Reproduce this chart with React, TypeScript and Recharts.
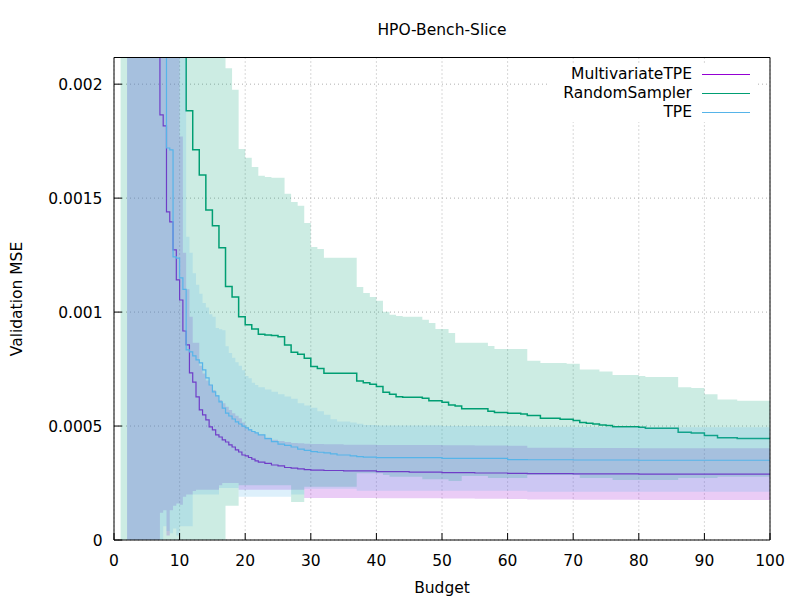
import React from 'react';
import { ComposedChart, Area, Line, XAxis, YAxis, CartesianGrid } from 'recharts';

// ---------- data (values in units of 1e-3 MSE; 3 = above the plot top, -1 = below zero) ----------
const UNIT = 1e-3;

const seriesNames = ['MultivariateTPE', 'RandomSampler', 'TPE'];
const seriesColors = ['#9400d3', '#009e73', '#56b4e9'];

const xTicks = [0, 10, 20, 30, 40, 50, 60, 70, 80, 90, 100];
const yTicks = [0, 0.0005, 0.001, 0.0015, 0.002];
const yTickLabels = ['0', '0.0005', '0.001', '0.0015', '0.002'];

// MultivariateTPE
const mtpeBudget = [2, 7, 7.5, 8, 8.5, 9, 9.5, 10, 10.5, 11, 11.5, 12, 12.5, 13, 13.5, 14, 14.5, 15, 15.5, 16, 16.5, 17, 17.5, 18, 18.5, 19, 19.5, 20, 20.5, 21, 21.5, 22, 23, 24, 25, 26, 27, 28, 29, 30, 32, 35, 40, 45, 50, 55, 60, 63, 70, 80, 90, 100];
const mtpeMean = [3, 1.865, 1.817, 1.44, 1.396, 1.273, 1.141, 1.053, 0.917, 0.856, 0.733, 0.693, 0.628, 0.571, 0.549, 0.527, 0.496, 0.483, 0.461, 0.452, 0.439, 0.43, 0.417, 0.408, 0.395, 0.386, 0.373, 0.369, 0.362, 0.355, 0.347, 0.342, 0.336, 0.329, 0.325, 0.318, 0.315, 0.312, 0.309, 0.307, 0.305, 0.303, 0.3, 0.298, 0.296, 0.294, 0.292, 0.291, 0.29, 0.289, 0.289, 0.288];
const mtpeLow = [-1, 0.12, 0.13, 0.02, 0.13, 0.15, 0.16, 0.155, 0.19, 0.2, 0.2, 0.215, 0.22, 0.22, 0.22, 0.22, 0.22, 0.22, 0.22, 0.24, 0.25, 0.25, 0.25, 0.25, 0.25, 0.22, 0.22, 0.22, 0.22, 0.22, 0.22, 0.22, 0.22, 0.22, 0.22, 0.22, 0.22, 0.22, 0.184, 0.184, 0.184, 0.184, 0.183, 0.183, 0.182, 0.181, 0.18, 0.178, 0.177, 0.176, 0.176, 0.176];
const mtpeHigh = [3, 3, 3, 3, 3, 3, 3, 1.77, 1.26, 1.1, 0.98, 0.865, 0.865, 0.764, 0.73, 0.7, 0.68, 0.658, 0.636, 0.614, 0.6, 0.585, 0.57, 0.556, 0.545, 0.534, 0.515, 0.497, 0.487, 0.478, 0.47, 0.462, 0.45, 0.44, 0.434, 0.43, 0.426, 0.424, 0.422, 0.421, 0.42, 0.418, 0.417, 0.417, 0.416, 0.415, 0.414, 0.405, 0.404, 0.403, 0.403, 0.403];

// TPE
const tpeBudget = [2, 7, 7.5, 8, 8.5, 9, 9.5, 10, 10.5, 11, 11.5, 12, 12.5, 13, 13.5, 14, 14.5, 15, 15.5, 16, 16.5, 17, 17.5, 18, 18.5, 19, 19.5, 20, 20.5, 21, 21.5, 22, 23, 24, 25, 26, 27, 28, 29, 30, 31, 32, 33, 34, 36, 37, 38, 40, 50, 60, 63, 70, 80, 100];
const tpeMean = [3, 3, 3, 1.72, 1.712, 1.242, 1.237, 1.15, 1.1, 0.834, 0.825, 0.808, 0.79, 0.777, 0.746, 0.711, 0.68, 0.65, 0.632, 0.606, 0.579, 0.557, 0.544, 0.531, 0.518, 0.509, 0.5, 0.492, 0.483, 0.476, 0.47, 0.461, 0.445, 0.432, 0.421, 0.415, 0.408, 0.399, 0.393, 0.388, 0.385, 0.382, 0.378, 0.373, 0.369, 0.366, 0.364, 0.361, 0.358, 0.353, 0.352, 0.351, 0.35, 0.35];
const tpeLow = [-1, -1, 0.06, 0.04, 0.03, 0.05, 0.02, 0.06, 0.06, 0.06, 0.06, 0.2, 0.2, 0.2, 0.2, 0.2, 0.2, 0.2, 0.2, 0.228, 0.228, 0.228, 0.228, 0.228, 0.228, 0.19, 0.19, 0.19, 0.19, 0.19, 0.19, 0.19, 0.19, 0.19, 0.19, 0.19, 0.2, 0.2, 0.225, 0.225, 0.225, 0.225, 0.225, 0.225, 0.225, 0.216, 0.216, 0.216, 0.216, 0.216, 0.212, 0.212, 0.212, 0.212];
const tpeHigh = [3, 3, 3, 3, 3, 3, 3, 3, 3, 1.33, 1.26, 1.17, 1.12, 1.08, 1.04, 1.02, 0.99, 0.98, 0.93, 0.925, 0.92, 0.85, 0.82, 0.8, 0.78, 0.765, 0.745, 0.72, 0.71, 0.69, 0.68, 0.67, 0.66, 0.65, 0.64, 0.63, 0.62, 0.6, 0.59, 0.58, 0.565, 0.55, 0.53, 0.52, 0.515, 0.51, 0.505, 0.502, 0.5, 0.499, 0.497, 0.496, 0.495, 0.492];

// RandomSampler
const rsBudget = [1, 11, 12, 13, 14, 15, 16, 17, 18, 19, 20, 21, 22, 23, 24, 25, 26, 27, 28, 29, 30, 31, 32, 33, 34, 35, 36, 37, 38, 39, 40, 41, 42, 43, 44, 45, 46, 47, 48, 49, 50, 51, 52, 53, 54, 55, 56, 57, 58, 59, 60, 61, 62, 63, 64, 65, 66, 67, 68, 69, 70, 71, 72, 73, 74, 75, 76, 77, 78, 79, 80, 81, 82, 83, 84, 85, 86, 87, 88, 89, 90, 91, 92, 93, 94, 95, 96, 97, 98, 99, 100];
const rsMean = [3, 1.883, 1.712, 1.602, 1.448, 1.379, 1.282, 1.112, 1.066, 0.979, 0.944, 0.926, 0.903, 0.9, 0.897, 0.892, 0.856, 0.824, 0.815, 0.797, 0.761, 0.753, 0.732, 0.732, 0.732, 0.732, 0.732, 0.698, 0.69, 0.683, 0.673, 0.648, 0.639, 0.629, 0.626, 0.626, 0.626, 0.622, 0.611, 0.611, 0.604, 0.592, 0.588, 0.576, 0.576, 0.576, 0.576, 0.565, 0.559, 0.559, 0.556, 0.556, 0.553, 0.546, 0.546, 0.534, 0.534, 0.534, 0.53, 0.53, 0.524, 0.515, 0.512, 0.509, 0.505, 0.502, 0.497, 0.497, 0.497, 0.497, 0.495, 0.49, 0.49, 0.49, 0.49, 0.49, 0.473, 0.473, 0.47, 0.47, 0.458, 0.458, 0.449, 0.449, 0.449, 0.445, 0.445, 0.445, 0.445, 0.445, 0.442];
const rsLow = [-1, -1, -1, -1, -1, -1, -1, 0.15, 0.15, 0.24, 0.24, 0.24, 0.24, 0.24, 0.24, 0.24, 0.24, 0.167, 0.167, 0.234, 0.234, 0.234, 0.234, 0.234, 0.234, 0.234, 0.234, 0.293, 0.293, 0.293, 0.293, 0.285, 0.278, 0.278, 0.278, 0.278, 0.278, 0.266, 0.266, 0.266, 0.266, 0.259, 0.259, 0.281, 0.281, 0.281, 0.281, 0.272, 0.272, 0.272, 0.272, 0.272, 0.272, 0.285, 0.285, 0.285, 0.285, 0.285, 0.285, 0.285, 0.285, 0.272, 0.272, 0.272, 0.272, 0.272, 0.263, 0.263, 0.263, 0.263, 0.263, 0.263, 0.263, 0.263, 0.263, 0.263, 0.272, 0.272, 0.272, 0.272, 0.272, 0.272, 0.278, 0.278, 0.278, 0.278, 0.278, 0.278, 0.278, 0.278, 0.278];
const rsHigh = [3, 3, 3, 3, 3, 3, 3, 2.07, 1.975, 1.716, 1.677, 1.637, 1.598, 1.593, 1.589, 1.589, 1.519, 1.483, 1.466, 1.391, 1.286, 1.277, 1.238, 1.238, 1.238, 1.238, 1.238, 1.11, 1.084, 1.066, 1.05, 1.002, 0.988, 0.983, 0.979, 0.979, 0.979, 0.966, 0.952, 0.926, 0.926, 0.908, 0.865, 0.865, 0.865, 0.865, 0.865, 0.851, 0.838, 0.838, 0.838, 0.838, 0.838, 0.786, 0.786, 0.777, 0.777, 0.777, 0.777, 0.773, 0.773, 0.748, 0.748, 0.748, 0.739, 0.739, 0.724, 0.724, 0.724, 0.724, 0.72, 0.715, 0.715, 0.715, 0.715, 0.715, 0.67, 0.67, 0.667, 0.667, 0.639, 0.639, 0.617, 0.617, 0.617, 0.611, 0.611, 0.611, 0.611, 0.611, 0.611];

// ---------- build the table (step-hold of each series at every budget) ----------
function holdAt(budgets: number[], values: number[], x: number): number | null {
  let idx = -1;
  for (let i = 0; i < budgets.length; i++) if (budgets[i] <= x + 1e-9) idx = i;
  return idx < 0 ? null : values[idx] * UNIT;
}
function band(budgets: number[], lo: number[], hi: number[], x: number): [number, number] | null {
  const l = holdAt(budgets, lo, x);
  const h = holdAt(budgets, hi, x);
  return l == null || h == null ? null : [l, h];
}
const allBudgets = Array.from(new Set([...mtpeBudget, ...tpeBudget, ...rsBudget])).sort((a, b) => a - b);
const tableData = allBudgets.map((b) => ({
  budget: b,
  mtpe: holdAt(mtpeBudget, mtpeMean, b),
  mtpeBand: band(mtpeBudget, mtpeLow, mtpeHigh, b),
  rs: holdAt(rsBudget, rsMean, b),
  rsBand: band(rsBudget, rsLow, rsHigh, b),
  tpe: holdAt(tpeBudget, tpeMean, b),
  tpeBand: band(tpeBudget, tpeLow, tpeHigh, b),
}));

// ---------- layout ----------
const FONT = '"DejaVu Sans", "Liberation Sans", sans-serif';
const FS = 15.5;
const PLOT_LEFT = 114;
const PLOT_TOP = 57.5;
const PLOT_RIGHT = 770;
const PLOT_BOTTOM = 540;
const Y_MAX = 0.002117;
const tickStyle = { fill: '#000', fontSize: FS, fontFamily: FONT };
const black = { stroke: '#000', strokeWidth: 1 };

const textBox = (extra: React.CSSProperties): React.CSSProperties => ({
  position: 'absolute',
  whiteSpace: 'nowrap',
  fontFamily: FONT,
  fontSize: FS,
  lineHeight: '19px',
  color: '#000',
  ...extra,
});

const legendRows = [74, 93.3, 112.3];

export default function App() {
  return (
    <div style={{ position: 'absolute', left: 0, top: 0, width: 800, height: 600, background: '#fff' }}>
      <ComposedChart
        width={800}
        height={600}
        data={tableData}
        margin={{ top: PLOT_TOP - 1, right: 800 - PLOT_RIGHT - 1, bottom: 600 - PLOT_BOTTOM - 30, left: PLOT_LEFT - 60 }}
      >
        <CartesianGrid stroke="#b0b0b0" strokeDasharray="1 3" />
        <XAxis
          dataKey="budget"
          type="number"
          domain={[0, 100]}
          ticks={xTicks}
          interval={0}
          allowDataOverflow
          height={30}
          tickSize={-7}
          tickMargin={22}
          tick={tickStyle}
          axisLine={black}
          tickLine={black}
        />
        <XAxis
          xAxisId="top"
          orientation="top"
          dataKey="budget"
          type="number"
          domain={[0, 100]}
          ticks={xTicks}
          interval={0}
          allowDataOverflow
          height={1}
          tickSize={-7}
          tick={false}
          axisLine={black}
          tickLine={black}
        />
        <YAxis
          type="number"
          domain={[0, Y_MAX]}
          ticks={yTicks}
          interval={0}
          allowDataOverflow
          width={60}
          tickSize={-8}
          tickMargin={19.5}
          tick={tickStyle}
          tickFormatter={(v: number) => {
            const i = yTicks.indexOf(v);
            return i >= 0 ? yTickLabels[i] : String(v);
          }}
          axisLine={black}
          tickLine={black}
        />
        <YAxis
          yAxisId="right"
          orientation="right"
          type="number"
          domain={[0, Y_MAX]}
          ticks={yTicks}
          interval={0}
          allowDataOverflow
          width={1}
          tickSize={-8}
          tick={false}
          axisLine={black}
          tickLine={black}
        />

        <Area type="stepAfter" dataKey="mtpeBand" stroke="none" fill={seriesColors[0]} fillOpacity={0.2} isAnimationActive={false} zIndex={101} />
        <Line type="stepAfter" dataKey="mtpe" stroke={seriesColors[0]} strokeWidth={1.2} dot={false} activeDot={false} isAnimationActive={false} zIndex={102} />
        <Area type="stepAfter" dataKey="rsBand" stroke="none" fill={seriesColors[1]} fillOpacity={0.2} isAnimationActive={false} zIndex={103} />
        <Line type="stepAfter" dataKey="rs" stroke={seriesColors[1]} strokeWidth={1.5} dot={false} activeDot={false} isAnimationActive={false} zIndex={104} />
        <Area type="stepAfter" dataKey="tpeBand" stroke="none" fill={seriesColors[2]} fillOpacity={0.2} isAnimationActive={false} zIndex={105} />
        <Line type="stepAfter" dataKey="tpe" stroke={seriesColors[2]} strokeWidth={1.2} dot={false} activeDot={false} isAnimationActive={false} zIndex={106} />
      </ComposedChart>

      {/* title and axis labels */}
      <div style={textBox({ left: (PLOT_LEFT + PLOT_RIGHT) / 2, top: 20.5, transform: 'translateX(-50%)' })}>HPO-Bench-Slice</div>
      <div style={textBox({ left: (PLOT_LEFT + PLOT_RIGHT) / 2, top: 579, transform: 'translateX(-50%)' })}>Budget</div>
      <div
        style={textBox({
          left: 17,
          top: (PLOT_TOP + PLOT_BOTTOM) / 2,
          transform: 'translate(-50%, -50%) rotate(-90deg)',
        })}
      >
        Validation MSE
      </div>

      {/* key */}
      <div style={{ position: 'absolute', left: 548, top: 64, width: 210, height: 58, background: '#fff' }} />
      {seriesNames.map((name, i) => (
        <React.Fragment key={name}>
          <div style={textBox({ right: 800 - 692, top: legendRows[i] - 9.5, textAlign: 'right' })}>{name}</div>
          <div
            style={{
              position: 'absolute',
              left: 702,
              width: 48,
              top: legendRows[i] - 0.5,
              height: 1,
              background: seriesColors[i],
            }}
          />
        </React.Fragment>
      ))}
    </div>
  );
}
